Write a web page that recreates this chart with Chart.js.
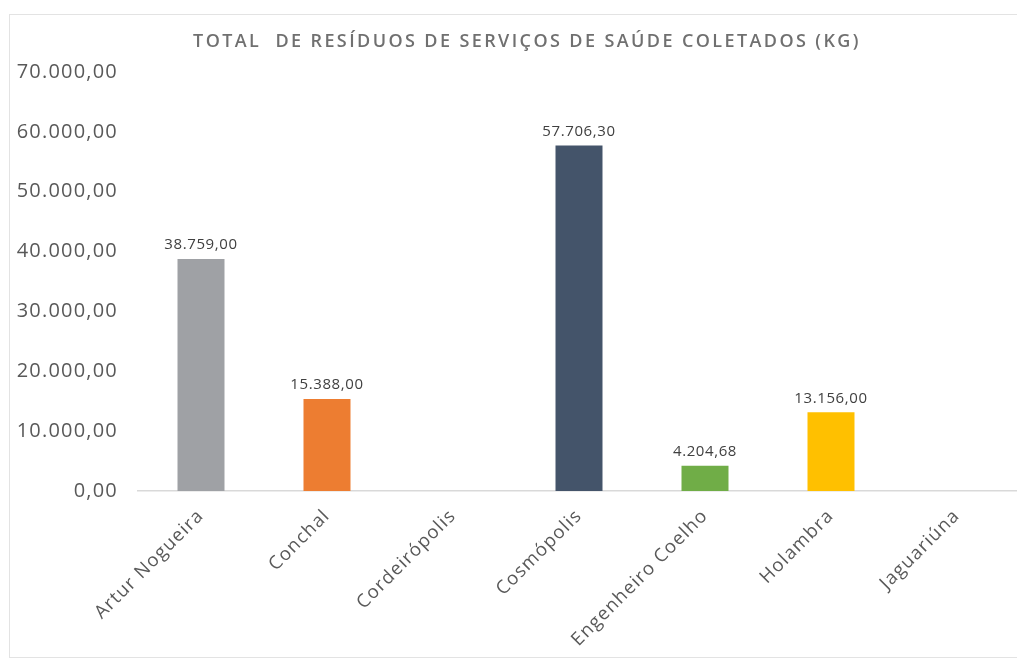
<!DOCTYPE html>
<html>
<head>
<meta charset="utf-8">
<script src="https://cdn.jsdelivr.net/npm/chart.js@4.4.1/dist/chart.umd.min.js"></script>
<style>
  html, body { margin: 0; padding: 0; background: #fff; overflow: hidden; }
  #frame { position: absolute; left: 9px; top: 14px; width: 1100px; height: 642px; border: 1px solid #e3e3e3; }
  #wrap { position: absolute; left: 0; top: 0; width: 1030px; height: 659px; }
</style>
</head>
<body>
<div id="frame"></div>
<div id="wrap"><canvas id="chart"></canvas></div>
<script>
const chartTitle = 'TOTAL  DE RESÍDUOS DE SERVIÇOS DE SAÚDE COLETADOS (KG)';
const cities = ['Artur Nogueira', 'Conchal', 'Cordeirópolis', 'Cosmópolis', 'Engenheiro Coelho', 'Holambra', 'Jaguariúna'];
const residuosKg = [38759.00, 15388.00, null, 57706.30, 4204.68, 13156.00, null];
const barColors = ['#9FA1A5', '#ED7D31', '#9FA1A5', '#44546A', '#70AD47', '#FFC000', '#5B9BD5'];
const yTicks = [0, 10000, 20000, 30000, 40000, 50000, 60000, 70000];

function fmtBR(v) {
    var parts = Math.abs(v).toFixed(2).split('.');
    var intPart = parts[0].replace(/\B(?=(\d{3})+(?!\d))/g, '.');
    return (v < 0 ? '-' : '') + intPart + ',' + parts[1];
}

// wider letter spacing for the axis text (the original looks stretched)
const spacing = {
    id: 'spacing',
    beforeDraw(chart) { chart.ctx.letterSpacing = '1.2px'; },
    beforeDatasetsDraw(chart) { chart.ctx.letterSpacing = '0px'; }
};

// title + value labels above each bar
const overlay = {
    id: 'overlay',
    afterDatasetsDraw(chart) {
        const ctx = chart.ctx;
        ctx.save();
        ctx.letterSpacing = '2.4px';
        ctx.font = '600 18px "Open Sans"';
        ctx.fillStyle = '#707070';
        ctx.textAlign = 'center';
        ctx.textBaseline = 'middle';
        ctx.fillText(chartTitle, 527, 42);

        ctx.letterSpacing = '0.6px';
        ctx.font = '15px "Open Sans"';
        ctx.fillStyle = '#404040';
        const meta = chart.getDatasetMeta(0);
        meta.data.forEach((bar, i) => {
            const v = residuosKg[i];
            if (v === null) return;
            ctx.fillText(fmtBR(v), bar.x, bar.y - 14);
        });
        ctx.restore();
    }
};

const ctx = document.getElementById('chart');

const data = {
    labels: cities,
    datasets: [{
        data: residuosKg,
        backgroundColor: barColors,
        barPercentage: 0.373,
        categoryPercentage: 1.0
    }]
};

const config = {
    type: 'bar',
    data: data,
    plugins: [spacing, overlay],
    options: {
        responsive: true,
        maintainAspectRatio: false,
        animation: false,
        layout: { padding: { left: 0, right: 10, top: 72, bottom: 0 } },
        plugins: {
            legend: { display: false },
            tooltip: { enabled: false },
            title: { display: false }
        },
        scales: {
            x: {
                grid: { display: false, drawTicks: false },
                border: { display: true, color: '#d9d9d9', width: 1.5 },
                ticks: {
                    color: '#595959',
                    font: { family: '"Open Sans"', size: 18.5 },
                    minRotation: 45,
                    maxRotation: 45,
                    autoSkip: false,
                    padding: 14
                },
                afterFit: function (scale) { scale.height = 168; }
            },
            y: {
                min: 0,
                max: 70000,
                afterBuildTicks: function (scale) {
                    scale.ticks = yTicks.map(v => ({ value: v }));
                },
                grid: { display: false, drawTicks: false },
                border: { display: false },
                ticks: {
                    color: '#595959',
                    font: { family: '"Open Sans"', size: 20 },
                    padding: 20,
                    callback: function (value) { return fmtBR(value); }
                },
                afterFit: function (scale) { scale.width = 138; }
            }
        }
    }
};

new Chart(ctx, config);
</script>
</body>
</html>
